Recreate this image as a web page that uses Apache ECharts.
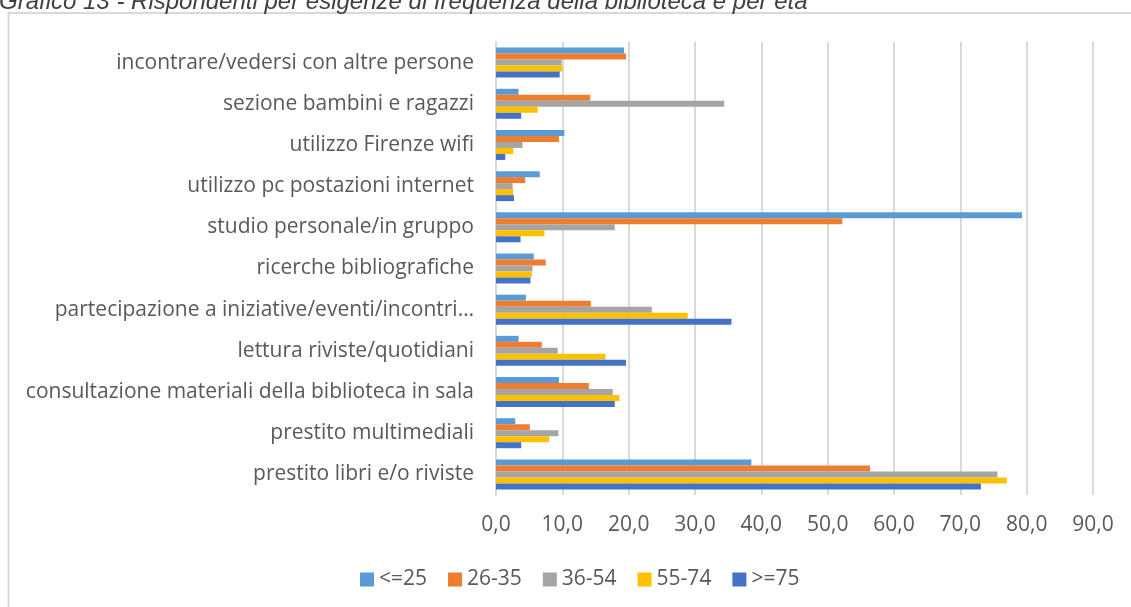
<!DOCTYPE html>
<html>
<head>
<meta charset="utf-8">
<script src="https://cdn.jsdelivr.net/npm/echarts@6/dist/echarts.min.js"></script>
<style>
  html, body { margin: 0; padding: 0; background: #fff; }
  #chart { width: 1131px; height: 607px; }
</style>
</head>
<body>
<div id="chart"></div>
<script>
// categorie dall'alto verso il basso, come nel grafico
var categories = [
  'incontrare/vedersi con altre persone',
  'sezione bambini e ragazzi',
  'utilizzo Firenze wifi',
  'utilizzo pc postazioni internet',
  'studio personale/in gruppo',
  'ricerche bibliografiche',
  'partecipazione a iniziative/eventi/incontri…',
  'lettura riviste/quotidiani',
  'consultazione materiali della biblioteca in sala',
  'prestito multimediali',
  'prestito libri e/o riviste'
];
var ageNames = ['<=25', '26-35', '36-54', '55-74', '>=75'];
var le25   = [19.3, 3.4, 10.3, 6.6, 79.3, 5.7, 4.5, 3.4, 9.5, 2.9, 38.5];
var a26_35 = [19.6, 14.2, 9.5, 4.4, 52.2, 7.5, 14.3, 6.9, 14.0, 5.1, 56.4];
var a36_54 = [9.9, 34.4, 4.0, 2.5, 17.9, 5.5, 23.5, 9.3, 17.6, 9.4, 75.6];
var a55_74 = [10.0, 6.3, 2.6, 2.6, 7.3, 5.4, 28.9, 16.5, 18.6, 8.0, 77.0];
var ge75   = [9.6, 3.8, 1.4, 2.7, 3.7, 5.2, 35.5, 19.6, 17.9, 3.8, 73.1];

var colors = ['#5B9BD5', '#ED7D31', '#A5A5A5', '#FFC000', '#4472C4'];
var textColor = '#595959';
var font = '"Open Sans", sans-serif';

var chart = echarts.init(document.getElementById('chart'));

var seriesData = [le25, a26_35, a36_54, a55_74, ge75];
var series = seriesData.map(function (arr, i) {
  return {
    name: ageNames[i],
    type: 'bar',
    data: arr,
    barWidth: 6,
    barGap: '0%',
    itemStyle: { color: colors[i] }
  };
});

var option = {
  animation: false,
  color: colors,
  textStyle: { fontFamily: font },
  graphic: [
    {
      type: 'rect',
      shape: { x: 8.5, y: 13, width: 1200, height: 700 },
      style: { fill: 'none', stroke: '#d9d9d9', lineWidth: 2 },
      z: -1
    },
    {
      // titolo tagliato in alto come nell'originale
      type: 'text',
      x: -1,
      y: 14,
      style: {
        text: 'Grafico 13 - Rispondenti per esigenze di frequenza della biblioteca e per età',
        font: 'italic 24px "Liberation Sans", Arial, sans-serif',
        fill: '#404040',
        verticalAlign: 'bottom'
      }
    }
  ],
  grid: { left: 496, right: 38, top: 42, bottom: 112, containLabel: false },
  legend: {
    data: ageNames,
    left: 355,
    top: 564,
    icon: 'rect',
    itemWidth: 14,
    itemHeight: 14,
    itemGap: 21,
    textStyle: { color: textColor, fontSize: 21, fontFamily: font }
  },
  xAxis: {
    type: 'value',
    min: 0,
    max: 90,
    interval: 10,
    axisLine: { show: false },
    axisTick: { show: false },
    splitLine: { lineStyle: { color: '#d9d9d9', width: 2 } },
    axisLabel: {
      color: textColor,
      fontSize: 21,
      margin: 20,
      fontFamily: font,
      formatter: function (v) { return v.toFixed(1).replace('.', ','); }
    }
  },
  yAxis: {
    type: 'category',
    inverse: true,
    data: categories,
    axisLine: { lineStyle: { color: '#d9d9d9', width: 2 } },
    axisTick: { show: false },
    axisLabel: { color: textColor, fontSize: 21, margin: 22, fontFamily: font }
  },
  series: series
};

chart.setOption(option);
</script>
</body>
</html>
